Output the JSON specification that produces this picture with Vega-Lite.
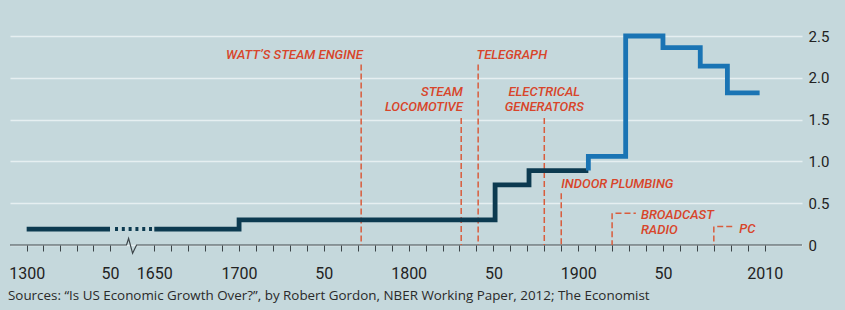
{
  "$schema": "https://vega.github.io/schema/vega-lite/v6.json",
  "width": 792,
  "height": 209,
  "autosize": {"type": "none"},
  "padding": {"left": 10, "top": 36, "right": 43, "bottom": 65},
  "background": "#c5d8dc",
  "config": {"view": {"stroke": null}},
  "title": {
    "text": "Sources: “Is US Economic Growth Over?”, by Robert Gordon, NBER Working Paper, 2012; The Economist",
    "orient": "bottom",
    "anchor": "start",
    "frame": "group",
    "font": "Open Sans",
    "fontSize": 13.4,
    "fontWeight": "normal",
    "color": "#2a2a2a",
    "offset": 8,
    "dx": -2
  },
  "datasets": {
    "growth": [
      {"series": "a", "tone": "early", "year": 1300, "value": 0.19},
      {"series": "a", "tone": "early", "year": 1350, "value": 0.19},
      {"series": "b", "tone": "early", "year": 1650, "value": 0.19},
      {"series": "b", "tone": "early", "year": 1700, "value": 0.3},
      {"series": "b", "tone": "early", "year": 1851, "value": 0.72},
      {"series": "b", "tone": "early", "year": 1871, "value": 0.89},
      {"series": "b", "tone": "early", "year": 1906, "value": 0.89},
      {"series": "c", "tone": "modern", "year": 1906, "value": 0.89},
      {"series": "c", "tone": "modern", "year": 1906, "value": 1.06},
      {"series": "c", "tone": "modern", "year": 1928, "value": 2.5},
      {"series": "c", "tone": "modern", "year": 1950, "value": 2.36},
      {"series": "c", "tone": "modern", "year": 1972, "value": 2.14},
      {"series": "c", "tone": "modern", "year": 1988, "value": 1.82},
      {"series": "c", "tone": "modern", "year": 2007, "value": 1.82}
    ],
    "dots": [
      {"year": 1384, "value": 0.19},
      {"year": 1638, "value": 0.19}
    ],
    "axisline": [
      {"year": 1290, "value": 0},
      {"year": 1462, "value": 0},
      {"year": 1476, "value": 0.08},
      {"year": 1503, "value": -0.1},
      {"year": 1530, "value": 0},
      {"year": 2032, "value": 0}
    ],
    "events": [
      {"event": "Watt's steam engine", "year": 1772, "value": 2.16},
      {"event": "Steam locomotive", "year": 1831, "value": 1.52},
      {"event": "Telegraph", "year": 1841, "value": 2.16},
      {"event": "Electrical generators", "year": 1880, "value": 1.52},
      {"event": "Indoor plumbing", "year": 1890, "value": 0.62},
      {"event": "Broadcast radio", "year": 1920, "value": 0.38},
      {"event": "PC", "year": 1980, "value": 0.22}
    ],
    "leads": [
      {"event": "Broadcast radio", "year": 1922, "year_end": 1934, "value": 0.38},
      {"event": "PC", "year": 1982, "year_end": 1991, "value": 0.22}
    ],
    "labels_right": [
      {"text": "WATT’S STEAM ENGINE", "year": 1773, "value": 2.275},
      {"text": "STEAM", "year": 1832, "value": 1.83},
      {"text": "LOCOMOTIVE", "year": 1832, "value": 1.65}
    ],
    "labels_left": [
      {"text": "TELEGRAPH", "year": 1840, "value": 2.27},
      {"text": "INDOOR PLUMBING", "year": 1890, "value": 0.73},
      {"text": "BROADCAST", "year": 1937, "value": 0.355},
      {"text": "RADIO", "year": 1937, "value": 0.18},
      {"text": "PC", "year": 1995, "value": 0.19}
    ],
    "labels_center": [
      {"text": "ELECTRICAL", "year": 1880, "value": 1.83},
      {"text": "GENERATORS", "year": 1880, "value": 1.65}
    ]
  },
  "encoding": {
    "x": {
      "field": "year",
      "type": "quantitative",
      "scale": {"type": "linear", "domain": [1290, 1350, 1650, 2032], "range": [0, 100, 144.3, 792], "nice": false, "zero": false},
      "axis": {
        "orient": "bottom",
        "title": null,
        "domain": false,
        "grid": false,
        "ticks": true,
        "tickSize": 6,
        "tickWidth": 1,
        "tickColor": "#3c4448",
        "values": [1300, 1310, 1320, 1330, 1340, 1350, 1650, 1660, 1670, 1680, 1690, 1700, 1710, 1720, 1730, 1740, 1750, 1760, 1770, 1780, 1790, 1800, 1810, 1820, 1830, 1840, 1850, 1860, 1870, 1880, 1890, 1900, 1910, 1920, 1930, 1940, 1950, 1960, 1970, 1980, 1990, 2000, 2010],
        "format": "d",
        "labelExpr": "(datum.value == 1350 || datum.value == 1750 || datum.value == 1850 || datum.value == 1950) ? '50' : ((datum.value == 1300 || datum.value == 1650 || datum.value == 1700 || datum.value == 1800 || datum.value == 1900 || datum.value == 2010) ? datum.label : '')",
        "labelOverlap": false,
        "labelFlush": false,
        "labelBound": false,
        "labelFont": "Roboto",
        "labelFontSize": 16,
        "labelColor": "#222222",
        "labelPadding": 14
      }
    },
    "y": {
      "field": "value",
      "type": "quantitative",
      "scale": {"domain": [0, 2.5], "nice": false, "zero": false},
      "axis": {
        "orient": "right",
        "title": null,
        "domain": false,
        "ticks": false,
        "grid": true,
        "gridColor": "#e6eff1",
        "gridWidth": 1.5,
        "values": [0, 0.5, 1, 1.5, 2, 2.5],
        "labelExpr": "datum.value == 0 ? '0' : format(datum.value, '.1f')",
        "labelFont": "Roboto",
        "labelFontSize": 15,
        "labelColor": "#222222",
        "labelPadding": 6,
        "labelAlign": "left",
        "labelBaseline": "middle"
      }
    }
  },
  "layer": [
    {
      "data": {"name": "axisline"},
      "mark": {"type": "line", "color": "#3c4448", "strokeWidth": 1.2, "interpolate": "linear"},
      "encoding": {}
    },
    {
      "data": {"name": "events"},
      "mark": {"type": "rule", "color": "#d95c3c", "strokeWidth": 1.5, "strokeDash": [6, 3]},
      "encoding": {"y2": {"datum": 0}}
    },
    {
      "data": {"name": "leads"},
      "mark": {"type": "rule", "color": "#d95c3c", "strokeWidth": 1.5, "strokeDash": [6, 3]},
      "encoding": {"x2": {"field": "year_end"}}
    },
    {
      "data": {"name": "growth"},
      "mark": {"type": "line", "interpolate": "step-after", "strokeWidth": 4.8, "strokeJoin": "miter", "strokeCap": "butt"},
      "encoding": {
        "detail": {"field": "series"},
        "color": {"field": "tone", "type": "nominal", "scale": {"domain": ["early", "modern"], "range": ["#0c3a50", "#1a74b4"]}, "legend": null}
      }
    },
    {
      "data": {"name": "dots"},
      "mark": {"type": "line", "color": "#0c3a50", "strokeWidth": 4, "strokeDash": [3, 3.8]},
      "encoding": {}
    },
    {
      "data": {"name": "labels_right"},
      "mark": {"type": "text", "align": "right", "baseline": "middle", "font": "Roboto", "fontStyle": "italic", "fontWeight": 500, "fontSize": 13, "color": "#d8452a"},
      "encoding": {"text": {"field": "text"}}
    },
    {
      "data": {"name": "labels_left"},
      "mark": {"type": "text", "align": "left", "baseline": "middle", "font": "Roboto", "fontStyle": "italic", "fontWeight": 500, "fontSize": 13, "color": "#d8452a"},
      "encoding": {"text": {"field": "text"}}
    },
    {
      "data": {"name": "labels_center"},
      "mark": {"type": "text", "align": "center", "baseline": "middle", "font": "Roboto", "fontStyle": "italic", "fontWeight": 500, "fontSize": 13, "color": "#d8452a"},
      "encoding": {"text": {"field": "text"}}
    }
  ]
}
